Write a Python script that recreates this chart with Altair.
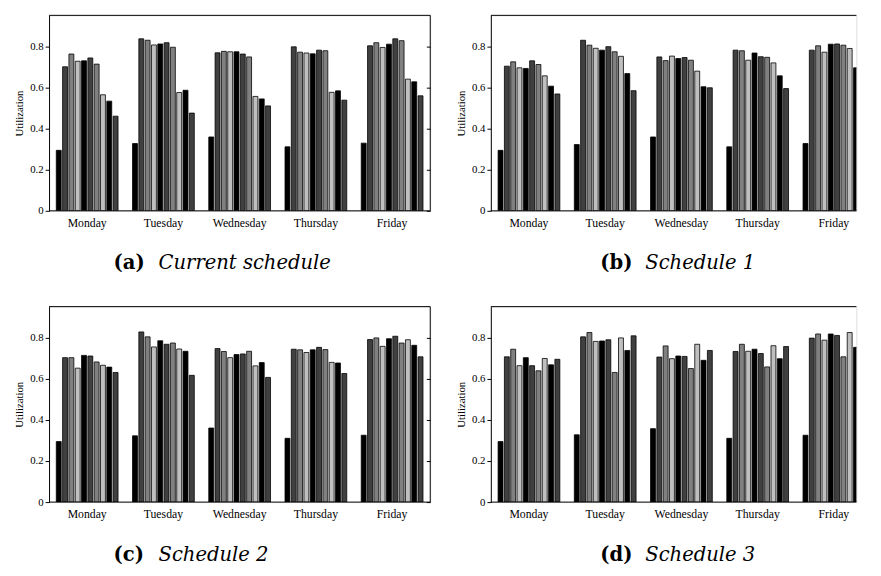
import altair as alt
import pandas as pd

days = ["Monday", "Tuesday", "Wednesday", "Thursday", "Friday"]
shades = ["#000000", "#404040", "#808080", "#bfbfbf"]
y_ticks = [0, 0.2, 0.4, 0.6, 0.8]

# utilization per day (10 bars per day)
current = [
    [0.294, 0.700, 0.762, 0.727, 0.729, 0.743, 0.713, 0.564, 0.533, 0.460],
    [0.327, 0.836, 0.829, 0.806, 0.811, 0.817, 0.795, 0.575, 0.586, 0.475],
    [0.359, 0.768, 0.775, 0.773, 0.773, 0.762, 0.748, 0.556, 0.544, 0.510],
    [0.311, 0.797, 0.771, 0.767, 0.763, 0.781, 0.778, 0.576, 0.583, 0.538],
    [0.329, 0.802, 0.817, 0.794, 0.810, 0.836, 0.827, 0.640, 0.627, 0.559],
]
schedule1 = [
    [0.294, 0.703, 0.724, 0.695, 0.692, 0.729, 0.711, 0.656, 0.606, 0.568],
    [0.322, 0.829, 0.805, 0.790, 0.781, 0.798, 0.773, 0.751, 0.667, 0.584],
    [0.359, 0.748, 0.730, 0.752, 0.740, 0.745, 0.732, 0.679, 0.603, 0.598],
    [0.311, 0.781, 0.778, 0.732, 0.767, 0.749, 0.746, 0.719, 0.656, 0.594],
    [0.327, 0.781, 0.802, 0.771, 0.810, 0.811, 0.805, 0.789, 0.695, 0.667],
]
schedule2 = [
    [0.294, 0.702, 0.702, 0.651, 0.713, 0.710, 0.681, 0.665, 0.656, 0.630],
    [0.322, 0.827, 0.803, 0.754, 0.784, 0.767, 0.773, 0.744, 0.733, 0.616],
    [0.360, 0.746, 0.732, 0.702, 0.717, 0.720, 0.733, 0.662, 0.678, 0.606],
    [0.310, 0.743, 0.740, 0.727, 0.740, 0.752, 0.741, 0.679, 0.676, 0.625],
    [0.325, 0.790, 0.798, 0.757, 0.794, 0.806, 0.773, 0.789, 0.762, 0.706],
]
schedule3 = [
    [0.294, 0.706, 0.743, 0.663, 0.702, 0.663, 0.638, 0.698, 0.667, 0.694],
    [0.327, 0.803, 0.824, 0.781, 0.783, 0.789, 0.630, 0.798, 0.737, 0.808],
    [0.357, 0.705, 0.759, 0.697, 0.710, 0.708, 0.649, 0.767, 0.689, 0.737],
    [0.310, 0.732, 0.767, 0.733, 0.743, 0.722, 0.657, 0.760, 0.697, 0.756],
    [0.325, 0.797, 0.817, 0.787, 0.817, 0.810, 0.706, 0.824, 0.752, 0.808],
]

FONT = "Liberation Serif"
CAPFONT = "DejaVu Serif"
H = 200
FULL_W = 390
Y_MAX = 0.95


def panel(values, letter, name, right):
    W = 374 if right else FULL_W
    rows = []
    for d, day in enumerate(days):
        for b, v in enumerate(values[d]):
            rows.append({"day": day, "bar": b + 1, "value": v, "shade": b % 4})
    df = pd.DataFrame(rows)
    one = alt.Data(values=[{"k": 0}])
    yscale = alt.Scale(domain=[0, Y_MAX], nice=False)

    bars = alt.Chart(df).mark_bar(stroke="black", strokeWidth=0.8, clip=True).encode(
        x=alt.X(
            "day:N", sort=days,
            scale=alt.Scale(domain=days, paddingInner=0.19, paddingOuter=0.095, range=[0, FULL_W]),
            axis=alt.Axis(title=None, labelAngle=0, domain=False, ticks=False,
                          labelFont=FONT, labelFontSize=12, labelColor="black", labelPadding=7),
        ),
        xOffset=alt.XOffset("bar:O", scale=alt.Scale(paddingInner=0.22, paddingOuter=0)),
        y=alt.Y(
            "value:Q", scale=yscale,
            axis=alt.Axis(values=y_ticks, format="~g", title="Utilization", grid=False,
                          domain=True, domainColor="black", tickColor="black", tickSize=4,
                          labelFont=FONT, labelFontSize=11, labelColor="black", labelPadding=2,
                          titleFont=FONT, titleFontSize=11, titleFontWeight="normal",
                          titleColor="black", titlePadding=5),
        ),
        color=alt.Color("shade:N", scale=alt.Scale(domain=[0, 1, 2, 3], range=shades), legend=None),
    )
    if right:
        top = alt.Chart(one).mark_rule(color="black", strokeWidth=1).encode(
            x=alt.value(0), x2=alt.value(W), y=alt.value(0))
    else:
        top = alt.Chart(one).mark_rule(color="black", strokeWidth=1).encode(
            x=alt.value(0), x2=alt.value(W),
            y=alt.Y(datum=Y_MAX, type="quantitative", scale=yscale,
                    axis=alt.Axis(orient="right", values=y_ticks, labels=False, title=None,
                                  grid=False, domain=False, ticks=True, tickSize=4,
                                  tickColor="black", offset=-4)))
    bottom = alt.Chart(one).mark_rule(color="black", strokeWidth=1).encode(
        x=alt.value(0), x2=alt.value(W), y=alt.value(H))
    layers = [bars, top, bottom]
    if not right:
        layers.append(alt.Chart(one).mark_rule(color="black", strokeWidth=1).encode(
            x=alt.value(FULL_W), y=alt.value(0), y2=alt.value(H)))
    cx = 112 if right else 66
    cap1 = alt.Chart(one).mark_text(font=CAPFONT, fontWeight="bold", fontSize=20,
                                    align="left", baseline="middle", color="black").encode(
        x=alt.value(cx), y=alt.value(254), text=alt.value(f"({letter})"))
    cap2 = alt.Chart(one).mark_text(font=CAPFONT, fontStyle="italic", fontSize=20,
                                    align="left", baseline="middle", color="black").encode(
        x=alt.value(cx + 46), y=alt.value(254), text=alt.value(name))
    layers += [cap1, cap2]
    out = alt.layer(*layers).properties(width=W, height=H)
    if not right:
        out = out.resolve_axis(y="independent")
    return out


a = panel(current, "a", "Current schedule", False)
b = panel(schedule1, "b", "Schedule 1", True)
c = panel(schedule2, "c", "Schedule 2", False)
d = panel(schedule3, "d", "Schedule 3", True)

chart = alt.vconcat(
    alt.hconcat(a, b, spacing=24),
    alt.hconcat(c, d, spacing=24),
    spacing=32,
).properties(
    padding={"left": 5, "top": 0, "right": 0, "bottom": 0}
).configure_view(strokeOpacity=0).configure(background="white")

chart.save("out.html", embed_options={"renderer": "svg", "actions": False})
